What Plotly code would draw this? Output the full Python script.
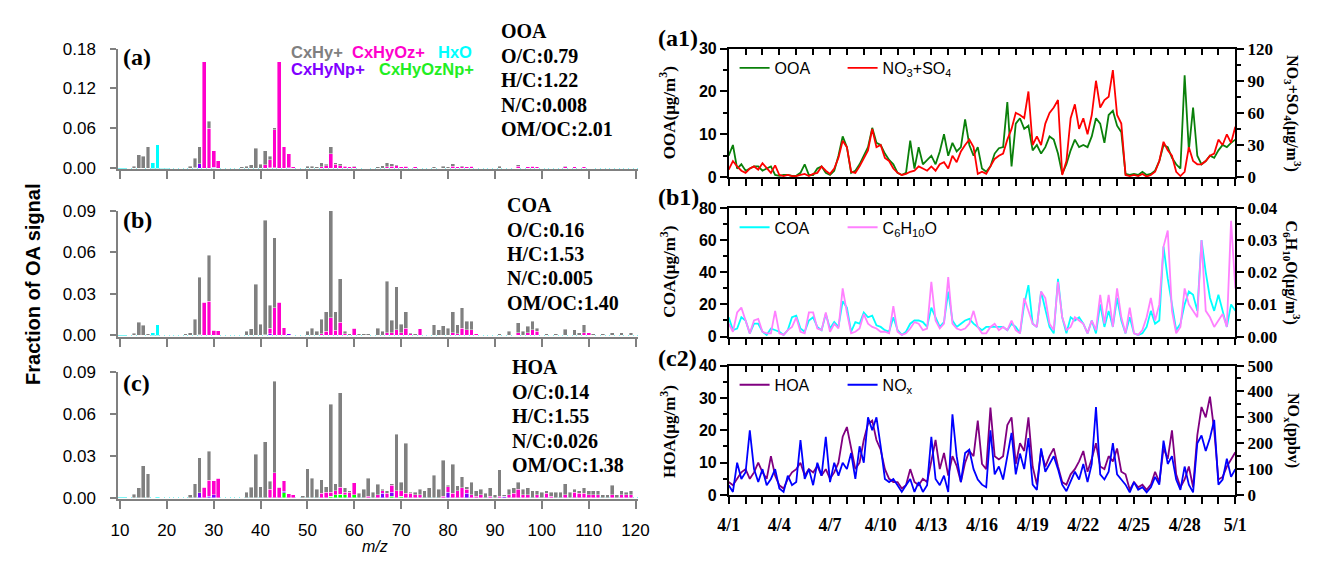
import plotly.graph_objects as go
import pandas as pd

W, H = 1317, 563
def fx(p): return p / W
def fy(p): return 1 - p / H

SANS = "Liberation Sans, Arial, sans-serif"
SERIF = "Liberation Serif, Times New Roman, serif"

# ---------------- mass spectra (fraction of OA signal) ----------------
mz = list(range(12, 121))
categories = ["HxO", "CxHyOzNp+", "CxHyNp+", "CxHyOz+", "CxHy+"]
cat_colors = ["#00FFFF", "#00FF00", "#8000FF", "#FF00CC", "#808080"]

ooa_cxhy = {12: 0.001, 13: 0.003, 14: 0.020, 15: 0.018, 16: 0.032, 24: 0.001, 25: 0.003, 26: 0.014,
            27: 0.025, 29: 0.011, 36: 0.002, 37: 0.003, 38: 0.005, 39: 0.030, 40: 0.006, 41: 0.021,
            42: 0.005, 43: 0.003, 49: 0.001, 50: 0.003, 51: 0.003, 52: 0.002, 53: 0.006, 54: 0.002,
            55: 0.010, 56: 0.002, 57: 0.003, 58: 0.001, 60: 0.001, 62: 0.001, 63: 0.001, 65: 0.002,
            66: 0.004, 67: 0.006, 68: 0.004, 69: 0.001, 77: 0.002, 79: 0.003, 80: 0.002, 81: 0.004,
            83: 0.002, 91: 0.003, 93: 0.001, 95: 0.002, 105: 0.001, 115: 0.001}
ooa_cxhyoz = {28: 0.160, 29: 0.060, 30: 0.025, 31: 0.011, 41: 0.005, 42: 0.012, 43: 0.057, 44: 0.160,
              45: 0.032, 46: 0.021, 47: 0.002, 53: 0.002, 54: 0.004, 55: 0.022, 56: 0.006, 57: 0.004,
              58: 0.003, 59: 0.002, 60: 0.002, 67: 0.002, 68: 0.003, 69: 0.004, 70: 0.002, 71: 0.003,
              72: 0.001, 73: 0.002, 81: 0.003, 82: 0.002, 83: 0.002, 84: 0.002, 85: 0.003, 86: 0.001,
              95: 0.003, 97: 0.002, 98: 0.003, 99: 0.002, 105: 0.002, 107: 0.002, 109: 0.002, 110: 0.001}
ooa_cxhynp = {26: 0.001, 27: 0.007, 30: 0.001, 42: 0.001, 43: 0.001}
ooa_cxhyoznp = {30: 0.0005, 46: 0.001}
ooa_hxo = {17: 0.009, 18: 0.036, 19: 0.001, 20: 0.001}

coa_cxhy = {13: 0.0014, 14: 0.0093, 15: 0.0072, 16: 0.001, 24: 0.001, 25: 0.002, 26: 0.0117, 27: 0.0415,
            29: 0.0333, 37: 0.003, 38: 0.0047, 39: 0.037, 40: 0.008, 41: 0.0827, 42: 0.0167, 43: 0.0508,
            50: 0.003, 51: 0.005, 52: 0.003, 53: 0.0107, 54: 0.014, 55: 0.0772, 56: 0.0135, 57: 0.0315,
            58: 0.002, 59: 0.001, 61: 0.001, 62: 0.001, 63: 0.001, 65: 0.005, 66: 0.003, 67: 0.037,
            68: 0.009, 69: 0.031, 70: 0.006, 71: 0.012, 72: 0.001, 73: 0.001, 77: 0.0077, 78: 0.004,
            79: 0.007, 80: 0.005, 81: 0.015, 82: 0.0065, 83: 0.015, 84: 0.006, 85: 0.006, 91: 0.001,
            93: 0.003, 95: 0.007, 96: 0.003, 97: 0.0047, 98: 0.006, 99: 0.002, 101: 0.001, 103: 0.001,
            105: 0.0045, 107: 0.004, 108: 0.002, 109: 0.0055, 111: 0.001, 113: 0.001, 115: 0.002,
            117: 0.002, 119: 0.002}
coa_cxhyoz = {28: 0.024, 29: 0.0247, 30: 0.0037, 31: 0.0033, 42: 0.004, 43: 0.0198, 44: 0.024, 45: 0.0054,
              53: 0.001, 54: 0.003, 55: 0.0128, 56: 0.0035, 57: 0.0093, 58: 0.001, 60: 0.005, 67: 0.002,
              68: 0.002, 69: 0.004, 70: 0.002, 71: 0.005, 72: 0.001, 74: 0.0047, 81: 0.002, 82: 0.001,
              83: 0.005, 84: 0.004, 85: 0.004, 86: 0.001, 95: 0.002, 97: 0.002, 98: 0.004, 99: 0.003,
              109: 0.002, 110: 0.002}
coa_cxhynp = {22: 0.0005, 27: 0.0005, 41: 0.0005, 42: 0.001, 46: 0.001}
coa_cxhyoznp = {}
coa_hxo = {17: 0.002, 18: 0.0077}

hoa_cxhy = {13: 0.0025, 14: 0.007, 15: 0.023, 16: 0.017, 25: 0.002, 26: 0.0099, 27: 0.0253, 29: 0.021,
            37: 0.004, 38: 0.0076, 39: 0.031, 40: 0.0078, 41: 0.040, 42: 0.0058, 43: 0.0658, 49: 0.0015,
            50: 0.0208, 51: 0.014, 52: 0.006, 53: 0.0097, 54: 0.004, 55: 0.063, 56: 0.005, 57: 0.068,
            58: 0.003, 59: 0.001, 61: 0.003, 62: 0.006, 63: 0.013, 64: 0.004, 65: 0.0075, 66: 0.001,
            67: 0.002, 68: 0.001, 69: 0.0405, 70: 0.006, 71: 0.036, 72: 0.001, 73: 0.002, 74: 0.004,
            75: 0.005, 76: 0.007, 77: 0.016, 78: 0.006, 79: 0.026, 80: 0.001, 81: 0.0208, 82: 0.0035,
            83: 0.008, 84: 0.002, 85: 0.009, 86: 0.004, 87: 0.004, 88: 0.003, 89: 0.006, 90: 0.002,
            91: 0.019, 92: 0.001, 93: 0.004, 94: 0.004, 95: 0.005, 96: 0.004, 97: 0.005, 98: 0.005,
            99: 0.003, 100: 0.004, 101: 0.002, 102: 0.003, 103: 0.004, 104: 0.004, 105: 0.008, 106: 0.004,
            107: 0.002, 108: 0.002, 109: 0.004, 110: 0.003, 111: 0.003, 112: 0.003, 113: 0.002, 114: 0.002,
            115: 0.007, 116: 0.002, 117: 0.003, 118: 0.002, 119: 0.003}
hoa_cxhyoz = {28: 0.0076, 29: 0.0114, 30: 0.010, 31: 0.0138, 42: 0.006, 43: 0.0177, 44: 0.0076, 45: 0.0077,
              46: 0.0028, 47: 0.002, 53: 0.003, 54: 0.004, 55: 0.003, 56: 0.003, 57: 0.005, 58: 0.002,
              59: 0.004, 60: 0.0087, 63: 0.001, 65: 0.002, 66: 0.002, 67: 0.003, 68: 0.005, 69: 0.005,
              70: 0.004, 71: 0.003, 72: 0.003, 73: 0.002, 74: 0.002, 79: 0.001, 80: 0.004, 81: 0.003,
              82: 0.005, 83: 0.007, 84: 0.003, 85: 0.002, 86: 0.001, 87: 0.002, 89: 0.001, 91: 0.001,
              93: 0.002, 94: 0.003, 95: 0.006, 96: 0.002, 97: 0.002, 99: 0.002, 101: 0.003, 102: 0.001,
              105: 0.002, 107: 0.004, 108: 0.003, 109: 0.003, 110: 0.002, 111: 0.002, 112: 0.002,
              115: 0.002, 117: 0.002, 118: 0.002, 119: 0.002}
hoa_cxhynp = {27: 0.0035, 29: 0.001, 30: 0.002, 45: 0.001, 66: 0.003, 68: 0.003, 80: 0.004, 84: 0.003, 92: 0.001}
hoa_cxhyoznp = {45: 0.0035, 55: 0.001, 56: 0.002, 57: 0.0025, 58: 0.002, 60: 0.002, 68: 0.001, 70: 0.001}
hoa_hxo = {18: 0.0005}

spectra = [
    [ooa_hxo, ooa_cxhyoznp, ooa_cxhynp, ooa_cxhyoz, ooa_cxhy],
    [coa_hxo, coa_cxhyoznp, coa_cxhynp, coa_cxhyoz, coa_cxhy],
    [hoa_hxo, hoa_cxhyoznp, hoa_cxhynp, hoa_cxhyoz, hoa_cxhy],
]

# ---------------- time series (6-hourly, 4/1 - 5/1) ----------------
time = pd.date_range("2015-04-01", "2015-05-01", freq="6h")

ooa = [5, 7.5, 2, 3, 1.5, 2, 2.5, 2.5, 1.5, 2, 2.5, 0.5, 0.3, 0.5, 0.5, 0.3,
       0.3, 1, 3, 0.5, 0.5, 2, 2.5, 1, 0.5, 1.5, 5, 9.5, 7, 1, 1.5, 3,
       5, 7, 11.5, 8, 7.5, 5.5, 4, 3, 1, 0.5, 1, 8.5, 2, 7, 3, 4,
       5, 3, 6, 10, 5, 8, 6, 7, 13.5, 7.5, 5, 7, 2, 1.25, 2.5, 5.5,
       6.75, 7, 17.5, 2.5, 12.5, 13.75, 11.25, 12, 6.25, 7.5, 5.5, 7, 9.5, 8.75, 5.5, 0.75,
       3, 6.25, 8.75, 7, 7.5, 7, 9.5, 13.75, 12.5, 8, 14.5, 15.5, 12, 10.5, 0.75, 0.5,
       0.75, 0.5, 1.25, 0.5, 0.75, 1.5, 3.75, 7.5, 7, 4.5, 3, 2, 23.75, 6.25, 16.25, 5,
       3, 3.75, 5, 4.5, 6.25, 7.5, 7, 8, 8.75]
no3_so4 = [7, 15, 10, 6, 4, 8, 10, 7, 13, 8, 4, 11, 2, 1, 2, 1,
           1, 2, 3, 1, 3, 4, 10, 6, 3, 8, 18, 34, 28, 5, 4, 10,
           18, 25, 45, 28, 30, 18, 15, 8, 4, 2, 3, 5, 6, 10, 8, 6,
           10, 6, 12, 14, 8, 20, 14, 24, 30, 35, 28, 3, 5, 3, 10, 17,
           20, 22, 35, 45, 60, 58, 55, 80, 30, 38, 30, 50, 60, 65, 72, 2,
           15, 55, 68, 45, 55, 40, 58, 90, 65, 72, 75, 100, 58, 50, 2, 1,
           2, 1, 3, 0.5, 2, 5, 15, 33, 25, 20, 5, 1, 5, 28, 15, 12,
           12, 15, 20, 22, 35, 30, 40, 32, 47]
coa = [12, 4, 5, 12, 10, 2, 8, 8, 3, 1, 5, 4, 3, 1, 4, 12,
       13, 5, 3, 10, 12, 6, 4, 14, 5, 9, 6, 22, 18, 3, 9, 8,
       15, 12, 13, 7, 6, 4, 3, 12, 4, 1, 3, 8, 10, 10, 9, 6,
       18, 12, 6, 9, 28, 10, 6, 8, 10, 11, 8, 6, 4, 6, 6, 6,
       6, 6, 4, 8, 6, 2, 20, 32, 8, 6, 28, 16, 6, 2, 36, 12,
       2, 12, 10, 12, 8, 2, 10, 2, 20, 6, 16, 6, 24, 10, 2, 12,
       2, 1, 2, 6, 16, 8, 10, 56, 36, 20, 4, 8, 20, 28, 26, 16,
       60, 40, 24, 16, 26, 16, 6, 20, 16]
c6h10o = [0.004, 0.0015, 0.0075, 0.009, 0.005, 0.001, 0.005, 0.0055, 0.0015, 0.001, 0.001, 0.008, 0.001, 0.0005, 0.002, 0.003,
          0.006, 0.0015, 0.001, 0.0075, 0.0075, 0.0025, 0.002, 0.0075, 0.0015, 0.004, 0.0025, 0.015, 0.0075, 0.001, 0.0015, 0.0025,
          0.007, 0.004, 0.003, 0.0025, 0.0015, 0.0015, 0.001, 0.0095, 0.0015, 0.0005, 0.001, 0.0025, 0.0045, 0.004, 0.002, 0.0025,
          0.017, 0.005, 0.0025, 0.004, 0.0185, 0.004, 0.0025, 0.002, 0.0025, 0.004, 0.008, 0.003, 0.001, 0.001, 0.003, 0.004,
          0.002, 0.003, 0.002, 0.005, 0.002, 0.001, 0.012, 0.008, 0.004, 0.003, 0.014, 0.012, 0.004, 0.002, 0.017, 0.006,
          0.002, 0.003, 0.006, 0.005, 0.004, 0.001, 0.005, 0.002, 0.013, 0.004, 0.013, 0.003, 0.015, 0.006, 0.001, 0.009,
          0.001, 0.0005, 0.002, 0.006, 0.012, 0.005, 0.010, 0.028, 0.033, 0.008, 0.001, 0.003, 0.015, 0.010, 0.008, 0.006,
          0.030, 0.008, 0.006, 0.003, 0.005, 0.007, 0.003, 0.036, 0.015]
hoa = [4, 3, 5, 7, 8, 5, 7, 10, 7, 5, 12, 6, 3, 2, 5, 7,
       8, 10, 6, 8, 7, 9, 6, 8, 5, 7, 10, 18, 21, 15, 8, 10,
       17, 22, 23, 17, 14, 8, 5, 4, 4, 2, 3, 8, 4, 3, 5, 4,
       10, 17, 8, 13, 6, 12, 9, 4, 10, 13.6, 12, 23, 9.6, 8, 27, 12,
       11, 12, 21.6, 24, 9.6, 16, 13.6, 24, 8.8, 3.2, 13.6, 8.8, 12, 14.4, 8.8, 4,
       3.2, 6.4, 8, 10.4, 13.6, 7.2, 11.2, 16, 8.8, 8, 12, 10.4, 14.4, 7.2, 6.4, 1.6,
       4, 2.4, 3.2, 1.6, 3.2, 7.2, 4, 14.4, 11.2, 20, 6.4, 2.4, 4.8, 8.8, 2.4, 18.4,
       27.2, 24, 30.4, 20, 4.8, 5.6, 8.8, 11.2, 13.2]
nox = [38, 12, 125, 62, 88, 250, 100, 50, 100, 38, 62, 100, 25, 12, 75, 38,
       50, 212, 62, 100, 38, 125, 75, 225, 50, 125, 75, 125, 100, 162, 62, 188,
       125, 300, 250, 300, 188, 62, 50, 62, 38, 12, 38, 62, 12, 50, 12, 38,
       225, 62, 38, 75, 12, 312, 150, 50, 162, 175, 100, 60, 40, 30, 250, 80,
       110, 60, 150, 240, 80, 160, 100, 220, 40, 20, 180, 90, 120, 150, 100, 40,
       15, 50, 90, 60, 120, 50, 120, 340, 80, 60, 90, 200, 80, 60, 40, 10,
       50, 20, 30, 10, 30, 70, 40, 210, 120, 150, 60, 20, 110, 40, 10, 200,
       230, 170, 220, 290, 40, 60, 140, 70, 100]

fig = go.Figure()

# ---- bars ----
for i, panel in enumerate(spectra):
    for cat, col, d in zip(categories, cat_colors, panel):
        fig.add_trace(go.Bar(
            x=mz, y=[d.get(m, 0) for m in mz], name=cat,
            marker=dict(color=col, line=dict(color="white", width=0.4)),
            width=0.8, xaxis=f"x{i+1}", yaxis=f"y{i+1}", showlegend=False))

# ---- time series ----
LW = 1.8
series = [
    (ooa, "OOA", "#0A800A", "x4", "y4", "legend"),
    (no3_so4, "NO<sub>3</sub>+SO<sub>4</sub>", "#FF0000", "x4", "y5", "legend"),
    (coa, "COA", "#00FFFF", "x6", "y6", "legend2"),
    (c6h10o, "C<sub>6</sub>H<sub>10</sub>O", "#FF80FF", "x6", "y7", "legend2"),
    (hoa, "HOA", "#800080", "x8", "y8", "legend3"),
    (nox, "NO<sub>x</sub>", "#0000FF", "x8", "y9", "legend3"),
]
for vals, name, col, xa, ya, lg in series:
    fig.add_trace(go.Scatter(x=time, y=vals, mode="lines", name=name, line=dict(color=col, width=LW),
                             xaxis=xa, yaxis=ya, legend=lg))
# transparent copies that carry the top (mirror) date axes
for vals, xa, ya in [(ooa, "x9", "y4"), (coa, "x10", "y6"), (hoa, "x11", "y8")]:
    fig.add_trace(go.Scatter(x=time, y=vals, mode="lines", line=dict(width=0), opacity=0,
                             hoverinfo="skip", showlegend=False, xaxis=xa, yaxis=ya))

GRAY = "#808080"
lay = {}
left_dom = [fx(108), fx(638)]
ydoms = [(166, 41), (339, 209), (507, 376)]
yranges = [[-0.0017, 0.18], [-0.0009, 0.09], [-0.0009, 0.09]]
ytv = [[0, 0.06, 0.12, 0.18], [0, 0.03, 0.06, 0.09], [0, 0.03, 0.06, 0.09]]
for i in range(3):
    k = "" if i == 0 else str(i + 1)
    lay[f"xaxis{k}"] = dict(domain=left_dom, range=[9.6, 120.6], anchor=f"y{k}",
                            tickvals=list(range(10, 121, 10)), ticks="outside", ticklen=8, tickwidth=1.5,
                            tickcolor=GRAY, showline=True, linecolor=GRAY, linewidth=2,
                            showticklabels=(i == 2), ticklabelstandoff=7,
                            tickfont=dict(family=SANS, size=17, color="black"),
                            showgrid=False, zeroline=False)
    lay[f"yaxis{k}"] = dict(domain=[fy(ydoms[i][0]), fy(ydoms[i][1])], range=yranges[i], anchor=f"x{k}",
                            tickvals=ytv[i], tickformat=".2f", ticks="outside", ticklen=6, tickwidth=1.5,
                            tickcolor=GRAY, showline=True, linecolor=GRAY, linewidth=1.5,
                            ticklabelstandoff=11, tickfont=dict(family=SANS, size=17, color="black"),
                            showgrid=False, zeroline=True, zerolinecolor="#80F4F4", zerolinewidth=1)

right_dom = [fx(730), fx(1246)]
DAY = 86400000
t0, t1 = "2015-04-01", "2015-05-01"
ts_panels = [
    dict(x=4, yl=4, yr=5, dom=(174, 41), rl=[0, 30], dl=10, ml=5, rr=[0, 120], dr=30, mr=15, fmt=None, top=9),
    dict(x=6, yl=6, yr=7, dom=(339, 206), rl=[0, 80], dl=20, ml=10, rr=[0, 0.04], dr=0.01, mr=0.005, fmt=".2f", top=10),
    dict(x=8, yl=8, yr=9, dom=(503, 369), rl=[0, 40], dl=10, ml=5, rr=[0, 500], dr=100, mr=50, fmt=None, top=11),
]
for j, p in enumerate(ts_panels):
    lay[f"xaxis{p['x']}"] = dict(domain=right_dom, range=[t0, t1], type="date", anchor=f"y{p['yl']}",
                                 tick0=t0, dtick=3 * DAY, tickformat="%-m/%-d", ticks="outside", ticklen=7,
                                 tickwidth=1.5, tickcolor="black",
                                 minor=dict(dtick=DAY, ticks="outside", ticklen=7, tickwidth=1.5, tickcolor="black"),
                                 showline=True, linecolor="black", linewidth=1.5, showgrid=False, zeroline=False,
                                 showticklabels=(j == 2), ticklabelstandoff=6,
                                 tickfont=dict(family=SERIF, size=18, color="black", weight="bold"))
    lay[f"xaxis{p['top']}"] = dict(domain=right_dom, range=[t0, t1], type="date", anchor=f"y{p['yl']}",
                                   overlaying=f"x{p['x']}", side="top", tick0=t0, dtick=DAY, ticks="inside",
                                   ticklen=7, tickwidth=1.5, tickcolor="black", showticklabels=False,
                                   showline=True, linecolor="black", linewidth=1.5, showgrid=False, zeroline=False)
    lay[f"yaxis{p['yl']}"] = dict(domain=[fy(p["dom"][0]), fy(p["dom"][1])], range=p["rl"], dtick=p["dl"],
                                  anchor=f"x{p['x']}", ticks="outside", ticklen=7, tickwidth=1.5, tickcolor="black",
                                  minor=dict(dtick=p["ml"], ticks="outside", ticklen=4, tickwidth=1.5, tickcolor="black"),
                                  showline=True, linecolor="black", linewidth=1.5, showgrid=False, zeroline=False,
                                  tickfont=dict(family=SANS, size=16, color="black", weight="bold"))
    lay[f"yaxis{p['yr']}"] = dict(range=p["rr"], dtick=p["dr"], anchor=f"x{p['x']}", overlaying=f"y{p['yl']}",
                                  side="right", ticks="outside", ticklen=7, tickwidth=1.5, tickcolor="black",
                                  minor=dict(dtick=p["mr"], ticks="outside", ticklen=4, tickwidth=1.5, tickcolor="black"),
                                  showline=True, linecolor="black", linewidth=1.5, showgrid=False, zeroline=False,
                                  tickformat=p["fmt"] if p["fmt"] else None,
                                  tickfont=dict(family=SERIF, size=17, color="black", weight="bold"))

leg_common = dict(orientation="h", xanchor="left", yanchor="middle", bgcolor="rgba(0,0,0,0)",
                  traceorder="normal", font=dict(family=SANS, size=16, color="black"),
                  entrywidthmode="pixels", entrywidth=63, itemwidth=30, tracegroupgap=0)
lay["legend"] = dict(x=fx(736), y=fy(61), **leg_common)
lay["legend2"] = dict(x=fx(736), y=fy(226), **leg_common)
lay["legend3"] = dict(x=fx(736), y=fy(389), **leg_common)

ann = []
def A(text, x, y, size, family, xanchor="left", yanchor="middle", color="black", angle=0, bold=True):
    ann.append(dict(text=text, x=fx(x), y=fy(y), xref="paper", yref="paper", showarrow=False,
                    xanchor=xanchor, yanchor=yanchor, textangle=angle,
                    font=dict(size=size, family=family, color=color, weight="bold" if bold else "normal")))

A("(a)", 111, 50, 24, SERIF)
A("(b)", 111, 218, 24, SERIF)
A("(c)", 111, 387, 24, SERIF)
A("CxHy+", 282, 45, 16.5, SANS, color="#808080")
A("CxHyOz+", 344, 45, 16.5, SANS, color="#FF00CC")
A("HxO", 432, 45, 16.5, SANS, color="#00FFFF")
A("CxHyNp+", 282, 62, 16.5, SANS, color="#8000FF")
A("CxHyOzNp+", 372, 62, 16.5, SANS, color="#22EE22")
for x0, y0, lines in [(496, 23, ["OOA", "O/C:0.79", "H/C:1.22", "N/C:0.008", "OM/OC:2.01"]),
                      (502, 203, ["COA", "O/C:0.16", "H/C:1.53", "N/C:0.005", "OM/OC:1.40"]),
                      (507, 371, ["HOA", "O/C:0.14", "H/C:1.55", "N/C:0.026", "OM/OC:1.38"])]:
    for n, t in enumerate(lines):
        A(t, x0, y0 + n * 25.3, 20, SERIF)
A("Fraction of OA signal", 22, 285, 20, SANS, xanchor="center", angle=-90)
A("<i>m/z</i>", 370, 556, 16, SANS, xanchor="center", bold=False)

A("(a1)", 656, 30, 24, SERIF)
A("(b1)", 656, 195, 24, SERIF)
A("(c2)", 656, 361, 24, SERIF)
A("OOA(μg/m<sup>3</sup>)", 668, 107, 17, SERIF, xanchor="center", angle=-90)
A("COA(μg/m<sup>3</sup>)", 668, 272, 17, SERIF, xanchor="center", angle=-90)
A("HOA(μg/m<sup>3</sup>)", 668, 437, 17, SERIF, xanchor="center", angle=-90)
A("NO<sub>3</sub>+SO<sub>4</sub>(μg/m<sup>3</sup>)", 1304, 108, 16, SERIF, xanchor="center", angle=90)
A("C<sub>6</sub>H<sub>10</sub>O(μg/m<sup>3</sup>)", 1304, 273, 16, SERIF, xanchor="center", angle=90)
A("NO<sub>x</sub>(ppbv)", 1304, 436, 16, SERIF, xanchor="center", angle=90)

fig.update_layout(**lay)
fig.update_layout(width=W, height=H, margin=dict(l=0, r=0, t=0, b=0), paper_bgcolor="white",
                  plot_bgcolor="white", barmode="stack", bargap=0.2, annotations=ann)
fig.write_html("out.html")
